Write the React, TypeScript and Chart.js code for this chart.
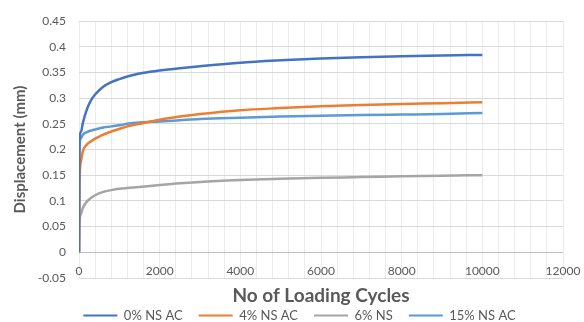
import React, { useEffect, useRef } from 'react';
import { Chart, registerables } from 'chart.js';

Chart.register(...registerables);

const cycles = [0, 10, 50, 100, 200, 300, 400, 600, 800, 1000, 1200, 1500, 2000, 2500, 3000, 4000, 5000, 6000, 7000, 8000, 9000, 10000];
const ns0AC = [0, 0.215, 0.235, 0.253, 0.279, 0.296, 0.307, 0.322, 0.331, 0.337, 0.342, 0.348, 0.3535, 0.358, 0.362, 0.369, 0.3735, 0.377, 0.3795, 0.3815, 0.383, 0.384];
const ns4AC = [0, 0.13, 0.178, 0.198, 0.21, 0.216, 0.221, 0.229, 0.235, 0.24, 0.245, 0.25, 0.258, 0.264, 0.269, 0.2765, 0.2805, 0.284, 0.2865, 0.2885, 0.29, 0.2918];
const ns6 = [0, 0.055, 0.075, 0.087, 0.099, 0.106, 0.111, 0.1175, 0.121, 0.1235, 0.125, 0.127, 0.131, 0.1345, 0.137, 0.1405, 0.1432, 0.145, 0.1463, 0.1478, 0.149, 0.15];
const ns15AC = [0, 0.2, 0.222, 0.229, 0.234, 0.237, 0.239, 0.243, 0.245, 0.247, 0.25, 0.2525, 0.2545, 0.257, 0.2595, 0.262, 0.264, 0.2655, 0.267, 0.268, 0.269, 0.271];

const seriesNames = ['0% NS AC', '4% NS AC', '6% NS', '15% NS AC'];
const seriesValues = [ns0AC, ns4AC, ns6, ns15AC];
const seriesColors = ['#4472C4', '#ED7D31', '#A5A5A5', '#5B9BD5'];

const xTitle = 'No of Loading Cycles';
const yTitle = 'Displacement (mm)';

export default function App() {
  const ref = useRef<HTMLCanvasElement>(null);

  useEffect(() => {
    const family = 'Lato, "Open Sans", sans-serif';
    const textColor = '#595959';
    const chart = new Chart(ref.current as HTMLCanvasElement, {
      type: 'line',
      data: {
        datasets: seriesNames.map((name, s) => ({
          label: name,
          data: cycles.map((c, i) => ({ x: c, y: seriesValues[s][i] })),
          borderColor: seriesColors[s],
          backgroundColor: seriesColors[s],
          borderWidth: 2.5,
          pointRadius: 0,
          fill: false,
          cubicInterpolationMode: 'monotone' as const,
        })),
      },
      options: {
        responsive: false,
        animation: false,
        layout: { padding: { left: 36, right: 21, top: 21, bottom: -10 } },
        scales: {
          x: {
            type: 'linear',
            min: 0,
            max: 12000,
            position: 'bottom',
            afterFit: (s: any) => { s.height = 15; },
            border: { display: false },
            grid: { color: '#ebebeb', drawTicks: false },
            ticks: {
              stepSize: 400,
              autoSkip: false,
              maxRotation: 0,
              mirror: true,
              padding: 0,
              color: textColor,
              font: { family, size: 12 },
              callback: (v: any) => (Number(v) % 2000 === 0 ? String(v) : ''),
            },
            title: {
              display: true,
              text: xTitle,
              color: textColor,
              font: { family, size: 19, weight: 'bold' },
              padding: { top: 0, bottom: -14.4 },
            },
          },
          y: {
            min: -0.05,
            max: 0.45,
            afterFit: (s: any) => { s.width = 43; },
            border: { display: false },
            grid: {
              drawTicks: false,
              color: (ctx: any) => (ctx.tick && Math.abs(ctx.tick.value) < 1e-9 ? '#bfbfbf' : '#d9d9d9'),
            },
            ticks: {
              stepSize: 0.05,
              padding: 13,
              color: textColor,
              font: { family, size: 12 },
              callback: (v: any) => String(parseFloat(Number(v).toFixed(2))),
            },
            title: {
              display: true,
              text: yTitle,
              color: textColor,
              font: { family, size: 15, weight: 'bold' },
              padding: { top: -25, bottom: 0 },
            },
          },
        },
        plugins: {
          legend: {
            position: 'bottom',
            labels: {
              boxWidth: 34,
              boxHeight: 2,
              padding: 16,
              color: textColor,
              font: { family, size: 13 },
              generateLabels: (c: any) =>
                (Chart.defaults.plugins.legend.labels.generateLabels as any)(c).map((l: any) => ({
                  ...l,
                  lineWidth: 0,
                  fillStyle: l.strokeStyle,
                })),
            },
          },
          tooltip: { enabled: false },
        },
      } as any,
    });
    return () => chart.destroy();
  }, []);

  return (
    <div style={{ position: 'absolute', left: 0, top: 0, width: 584, height: 322, background: '#fff' }}>
      <canvas ref={ref} width={584} height={322} style={{ display: 'block' }} />
    </div>
  );
}
